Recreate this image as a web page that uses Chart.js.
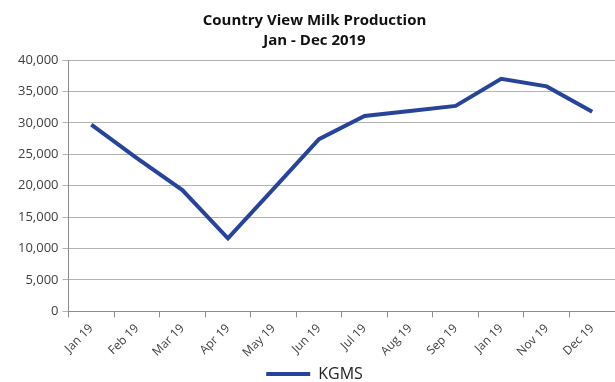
<!DOCTYPE html>
<html>
<head>
<meta charset="utf-8">
<script src="https://cdn.jsdelivr.net/npm/chart.js@4"></script>
<style>
  html, body { margin: 0; padding: 0; background: #fff; }
  #wrap { width: 615px; height: 382px; }
</style>
</head>
<body>
<div id="wrap"><canvas id="milk-chart" width="615" height="382"></canvas></div>
<script>
// Data
const months = ['Jan 19', 'Feb 19', 'Mar 19', 'Apr 19', 'May 19', 'Jun 19',
                'Jul 19', 'Aug 19', 'Sep 19', 'Jan 19', 'Nov 19', 'Dec 19'];
const kgms = [29700, 24400, 19300, 11600, 19500, 27400,
              31100, 31900, 32700, 37000, 35800, 31750];
const titleLines = ['Country View Milk Production', 'Jan - Dec 2019'];

const ctx = document.getElementById('milk-chart').getContext('2d');
const lineColor = '#27449a';
const axisColor = '#8c8c8c';
const gridColor = '#b3b3b3';
const textColor = '#404040';

new Chart(ctx, {
    type: 'line',
    data: {
        labels: months,
        datasets: [{
            label: 'KGMS',
            data: kgms,
            borderColor: lineColor,
            backgroundColor: lineColor,
            borderWidth: 4,
            pointRadius: 0,
            tension: 0,
            fill: false
        }]
    },
    options: {
        responsive: false,
        animation: false,
        // legend keeps 10px under its text, pull it down to the bottom edge
        layout: { padding: { left: 14, right: 0, top: 7, bottom: -10 } },
        plugins: {
            title: {
                display: true,
                text: titleLines,
                color: '#111',
                font: { family: 'Open Sans', size: 15, weight: 'bold', lineHeight: 1.3 },
                padding: { top: 4, bottom: 10 }
            },
            legend: {
                display: true,
                position: 'bottom',
                labels: {
                    boxWidth: 44,
                    boxHeight: 4,
                    color: '#222',
                    font: { family: 'Open Sans', size: 16 },
                    padding: 2,
                    // plain bar, no stroke round it
                    generateLabels: chart => [{
                        text: chart.data.datasets[0].label,
                        fillStyle: lineColor,
                        strokeStyle: lineColor,
                        lineWidth: 0,
                        datasetIndex: 0,
                        fontColor: '#222'
                    }]
                }
            },
            tooltip: { enabled: false }
        },
        scales: {
            x: {
                offset: true,
                grid: {
                    offset: true,
                    drawOnChartArea: false,
                    drawTicks: true,
                    tickLength: 6,
                    color: axisColor
                },
                border: { color: axisColor },
                ticks: {
                    color: textColor,
                    font: { family: 'Open Sans', size: 12 },
                    maxRotation: 45,
                    minRotation: 45,
                    autoSkip: false,
                    padding: 4
                }
            },
            y: {
                min: 0,
                max: 40000,
                grid: {
                    color: gridColor,
                    tickLength: 6,
                    drawTicks: true
                },
                border: { color: axisColor },
                ticks: {
                    stepSize: 5000,
                    color: textColor,
                    font: { family: 'Open Sans', size: 13 },
                    padding: 4,
                    callback: v => v.toLocaleString('en-US')
                }
            }
        }
    }
});
</script>
</body>
</html>
